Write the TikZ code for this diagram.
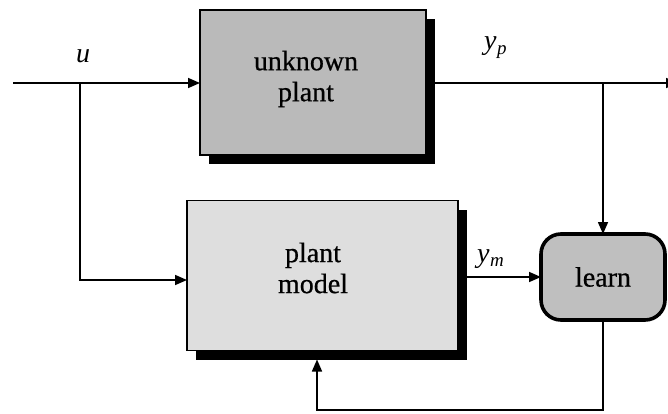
\documentclass[tikz,border=0pt]{standalone}
\usepackage{fontspec}
\setmainfont{Liberation Serif}
\newfontfamily\heavyserif[FakeBold=0.6]{Liberation Serif}
\usetikzlibrary{arrows.meta,shadows}
\newcommand{\ysubs}[1]{\textit{y}\kern0.5pt\raisebox{-0.35ex}{\fontsize{19}{19}\selectfont\textit{#1}}}
\begin{document}
\begin{tikzpicture}[x=1pt,y=-1pt,
  conn/.style={line width=1.6pt},
  arr/.style={conn,-{Triangle[length=12pt,width=10pt]}},
  txt/.style={font=\heavyserif\fontsize{28}{31}\selectfont,align=center,inner sep=0pt},
  blk/.style={draw,line width=1.8pt,inner sep=0pt,outer sep=0pt,
    drop shadow={shadow xshift=9pt,shadow yshift=-9pt,fill=black,opacity=1}},
  lbl/.style={font=\fontsize{28}{31}\selectfont\itshape,inner sep=0pt,anchor=base west}]
\useasboundingbox (0,0) rectangle (668,414);
\node[blk,fill=black!27,minimum width=226pt,minimum height=145pt] (plant) at (313,82.5) {};
\node[txt] (ptxt) at (306,79) {unknown\\plant};
\node[blk,fill=black!13,minimum width=271pt,minimum height=150pt] (model) at (322.5,275.5) {};
\node[txt] (mtxt) at (313,268) {plant\\model};
\node[draw,line width=3.6pt,rounded corners=20pt,fill=black!25,minimum width=124pt,minimum height=86pt,inner sep=0pt,outer sep=0pt,txt] (learn) at (603,277) {learn};
\coordinate (in) at (13,83);
\coordinate (br1) at (80,83);
\coordinate (m280) at (0,280);
\coordinate (bp) at (603,83);
\coordinate (out) at (678,83);
\coordinate (fb) at (317,410);
\draw[arr] (in) -- (plant.west |- in);
\draw[arr] (br1) |- (model.west |- m280);
\draw[arr] (plant.east |- in) -- (out);
\draw[arr] (bp) -- (learn.north);
\draw[arr] (model.east |- learn.west) -- (learn.west);
\draw[arr] (learn.south) |- (fb) -- ([yshift=-9pt]model.south -| fb);
\node[lbl,anchor=base] (u) at (83,63) {u};
\node[lbl] (yp) at (484,50) {\ysubs{p}};
\node[lbl] (ym) at (477,262) {\ysubs{m}};
\end{tikzpicture}
\end{document}
